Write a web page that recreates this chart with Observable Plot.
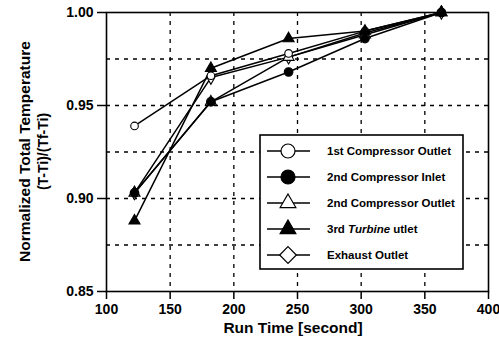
<!DOCTYPE html>
<html><head><meta charset="utf-8">
<script src="https://cdn.jsdelivr.net/npm/d3@7"></script>
<script src="https://cdn.jsdelivr.net/npm/@observablehq/plot@0.6"></script>
<style>
body{margin:0;background:#fff}
#chart{position:relative;width:499px;height:344px}
</style>
</head><body><div id="chart"></div>
<script>
const runTimes = [122, 182, 243, 303, 363];
const seriesNames = ["1st Compressor Outlet","2nd Compressor Inlet","2nd Compressor Outlet","3rd Turbine utlet","Exhaust Outlet"];
const s1 = [0.939, 0.966, 0.978, 0.990, 1.000];
const s2 = [0.903, 0.952, 0.968, 0.986, 1.000];
const s3 = [0.903, 0.952, 0.976, 0.988, 1.000];
const s4 = [0.888, 0.970, 0.986, 0.990, 1.000];
const s5 = [0.903, 0.965, 0.976, 0.989, 1.000];
const seriesValues = [s1, s2, s3, s4, s5];
const seriesSymbols = ["circle","circle","triangle","triangle","diamond"];
const seriesFilled = [false, true, false, true, false];
const xTicks = [100,150,200,250,300,350,400];
const yTicks = [0.85,0.90,0.95,1.00];
const xGrid = [150,200,250,300,350];
const yGrid = [0.875,0.900,0.925,0.950,0.975];
const xTitle = "Run Time [second]";
const yTitle1 = "Normalized Total Temperature";
const yTitle2 = "(T-Ti)/(Tf-Ti)";

(function(){
const FONT = "'Liberation Sans', Arial, Helvetica, sans-serif";

const marks = [
  Plot.gridX(xGrid, {stroke:"#000", strokeOpacity:1, strokeWidth:1.3, strokeDasharray:"4,5"}),
  Plot.gridY(yGrid, {stroke:"#000", strokeOpacity:1, strokeWidth:1.3, strokeDasharray:"4,5"}),
];
seriesValues.forEach((vals, i) => {
  const rows = runTimes.map((t, j) => ({t, v: vals[j]}));
  marks.push(Plot.line(rows, {x:"t", y:"v", stroke:"#000", strokeWidth:1.5}));
});
// hollow markers first, filled ones on top
const order = [4, 2, 0, 3, 1];
order.forEach(i => {
  const vals = seriesValues[i];
  const rows = runTimes.map((t, j) => ({t, v: vals[j]}));
  const r = seriesSymbols[i]==="circle" ? (seriesFilled[i] ? 4.3 : 3.8) : 4.1;
  marks.push(Plot.dot(rows, {x:"t", y:"v", symbol: seriesSymbols[i], r,
    fill: seriesFilled[i] ? "#000" : "#fff", stroke:"#000", strokeWidth:1.1}));
});
marks.push(Plot.axisX({ticks:xTicks, tickSize:8, tickPadding:5, label:null, fontSize:14, fontWeight:"bold", strokeWidth:1.5}));
marks.push(Plot.axisY({ticks:yTicks, tickSize:9, tickPadding:4, label:null, tickFormat:d3.format(".2f"), fontSize:14, fontWeight:"bold", strokeWidth:1.5}));
marks.push(Plot.frame({stroke:"#000", strokeWidth:1.6}));

const chart = Plot.plot({
  width:499, height:344,
  marginLeft:106, marginRight:11, marginTop:12, marginBottom:53,
  style:{fontFamily:FONT, background:"#fff", color:"#000"},
  x:{domain:[100,400]},
  y:{domain:[0.85,1.0]},
  marks
});
document.getElementById("chart").appendChild(chart);

const svg = d3.select(chart);
const xs = chart.scale("x"), ys = chart.scale("y");
const pLeft = xs.apply(100), pRight = xs.apply(400), pTop = ys.apply(1.0), pBottom = ys.apply(0.85);

// axis titles
svg.append("text").attr("x", (pLeft+pRight)/2 - 4).attr("y", 333)
  .attr("text-anchor","middle").attr("font-family",FONT).attr("font-weight","bold")
  .attr("font-size",15.5).text(xTitle);
const cy = (pTop+pBottom)/2;
svg.append("text").attr("transform",`translate(30,${cy}) rotate(-90)`)
  .attr("text-anchor","middle").attr("font-family",FONT).attr("font-weight","bold")
  .attr("font-size",15.5).text(yTitle1);
svg.append("text").attr("transform",`translate(48,${cy}) rotate(-90)`)
  .attr("text-anchor","middle").attr("font-family",FONT).attr("font-weight","bold")
  .attr("font-size",14).text(yTitle2);

// legend
const lg = svg.append("g");
const bx = 260, by = 135, bw = 203, bh = 134, rowH = 26;
lg.append("rect").attr("x",bx).attr("y",by).attr("width",bw).attr("height",bh)
  .attr("fill","#fff").attr("stroke","#000").attr("stroke-width",1.6);
const symMap = {circle:d3.symbolCircle, triangle:d3.symbolTriangle2, diamond:d3.symbolDiamond2};
seriesNames.forEach((name, i) => {
  const yy = by + 16 + i*rowH;
  lg.append("line").attr("x1",bx+7).attr("x2",bx+50).attr("y1",yy).attr("y2",yy)
    .attr("stroke","#000").attr("stroke-width",1.3);
  const r = seriesSymbols[i]==="circle" ? 7 : 7.5;
  lg.append("path").attr("transform",`translate(${bx+28},${yy})`)
    .attr("d", d3.symbol(symMap[seriesSymbols[i]], Math.PI*r*r)())
    .attr("fill", seriesFilled[i] ? "#000" : "#fff").attr("stroke","#000").attr("stroke-width",1.2);
  const t = lg.append("text").attr("x",bx+67).attr("y",yy).attr("dy","0.35em")
    .attr("text-anchor","start")
    .attr("font-family",FONT).attr("font-weight","bold").attr("font-size",11.5);
  if (name.includes("Turbine")) {
    const parts = name.split("Turbine");
    t.append("tspan").text(parts[0]);
    t.append("tspan").attr("font-style","italic").text("Turbine");
    t.append("tspan").text(parts[1]);
  } else t.text(name);
});
})();
</script>
</body></html>
